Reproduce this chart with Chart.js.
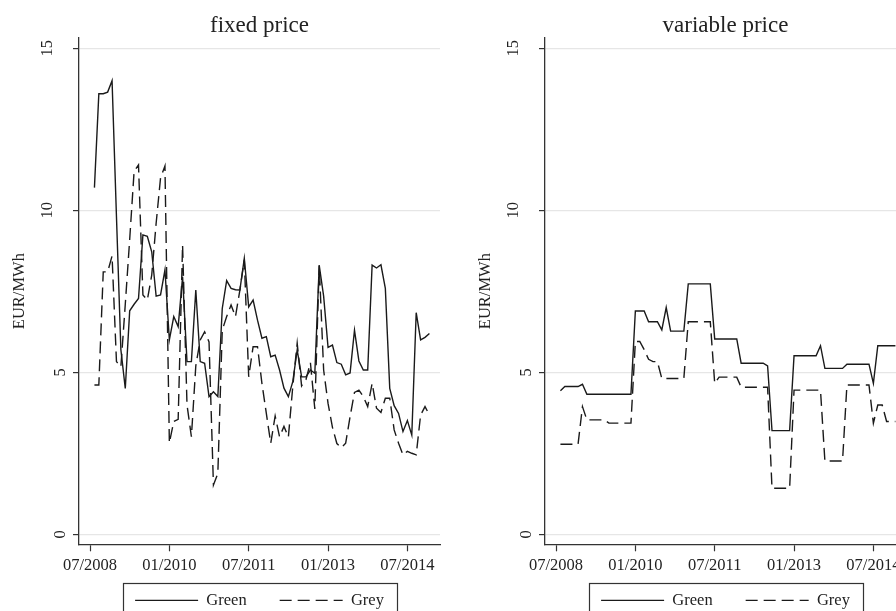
<!DOCTYPE html>
<html>
<head>
<meta charset="utf-8">
<script src="https://cdn.jsdelivr.net/npm/chart.js@4.4.1/dist/chart.umd.min.js"></script>
<style>
  html, body { margin: 0; padding: 0; background: #fff; width: 896px; height: 611px; overflow: hidden; }
  .panel { position: absolute; top: 0; width: 466px; height: 611px; }
  #fixedWrap { left: 0; }
  #variableWrap { left: 466px; }
</style>
</head>
<body>
<div class="panel" id="fixedWrap"><canvas id="fixedChart" width="466" height="611"></canvas></div>
<div class="panel" id="variableWrap"><canvas id="variableChart" width="466" height="611"></canvas></div>
<script>
// months counted from 07/2008 (= 0); series start 08/2008
const xTickValues = [0, 18, 36, 54, 72];
const xTickLabels = ['07/2008', '01/2010', '07/2011', '01/2013', '07/2014'];
const yTickValues = [0, 5, 10, 15];
const seriesNames = ['Green', 'Grey'];
const panelTitles = ['fixed price', 'variable price'];

const fixedGreen = [
  10.7, 13.6, 13.6, 13.65, 14.0, 9.8, 5.7, 4.5, 6.9, 7.1,
  7.28, 9.24, 9.2, 8.72, 7.35, 7.39, 8.16, 6.0, 6.72, 6.41,
  7.95, 5.33, 5.33, 7.54, 5.33, 5.28, 4.25, 4.4, 4.25, 6.97,
  7.83, 7.59, 7.55, 7.54, 8.52, 7.02, 7.23, 6.61, 6.05, 6.1,
  5.48, 5.53, 5.07, 4.51, 4.25, 4.71, 5.69, 4.86, 4.86, 5.07,
  4.97, 8.3, 7.35, 5.77, 5.84, 5.3, 5.25, 4.92, 4.98, 6.3,
  5.35, 5.07, 5.07, 8.31, 8.22, 8.32, 7.59, 4.5, 3.97, 3.73,
  3.17, 3.51, 3.06, 6.84, 6.0, 6.08, 6.2
];
const fixedGrey = [
  4.61, 4.61, 8.1, 8.1, 8.59, 5.33, 5.17, 7.1, 9.1, 11.2,
  11.4, 7.39, 7.23, 8.0, 9.6, 11.0, 11.37, 2.82, 3.48, 3.55,
  8.93, 4.0, 3.01, 5.2, 6.0, 6.25, 5.94, 1.52, 1.88, 6.3,
  6.72, 7.08, 6.72, 7.54, 8.47, 4.86, 5.79, 5.79, 4.66, 3.73,
  2.81, 3.65, 3.01, 3.33, 3.0, 4.56, 5.9, 4.58, 4.78, 5.3,
  3.87, 8.3, 5.07, 4.04, 3.3, 2.8, 2.67, 2.81, 3.63, 4.38,
  4.45, 4.25, 3.94, 4.66, 3.89, 3.76, 4.2, 4.2, 3.22, 2.81,
  2.45, 2.56, 2.5, 2.45, 3.68, 3.94, 3.68
];
const variableGreen = [
  4.43, 4.56, 4.56, 4.56, 4.56, 4.63, 4.32, 4.32, 4.32, 4.32,
  4.32, 4.32, 4.32, 4.32, 4.32, 4.32, 4.32, 6.89, 6.89, 6.89,
  6.56, 6.56, 6.56, 6.31, 7.0, 6.27, 6.27, 6.27, 6.27, 7.73,
  7.73, 7.73, 7.73, 7.73, 7.73, 6.03, 6.03, 6.03, 6.03, 6.03,
  6.03, 5.28, 5.28, 5.28, 5.28, 5.28, 5.28, 5.2, 3.2, 3.2,
  3.2, 3.2, 3.2, 5.51, 5.51, 5.51, 5.51, 5.51, 5.51, 5.82,
  5.12, 5.12, 5.12, 5.12, 5.12, 5.25, 5.25, 5.25, 5.25, 5.25,
  5.25, 4.66, 5.82, 5.82, 5.82, 5.82, 5.82
];
const variableGrey = [
  2.78, 2.78, 2.78, 2.78, 2.78, 3.94, 3.53, 3.53, 3.53, 3.53,
  3.53, 3.43, 3.43, 3.43, 3.43, 3.43, 3.43, 5.95, 5.95, 5.7,
  5.4, 5.33, 5.33, 4.81, 4.81, 4.81, 4.81, 4.81, 4.81, 6.56,
  6.56, 6.56, 6.56, 6.56, 6.56, 4.66, 4.85, 4.85, 4.85, 4.85,
  4.85, 4.54, 4.54, 4.54, 4.54, 4.54, 4.54, 4.54, 1.42, 1.42,
  1.42, 1.42, 1.42, 4.45, 4.45, 4.45, 4.45, 4.45, 4.45, 4.45,
  2.26, 2.26, 2.26, 2.26, 2.26, 4.61, 4.61, 4.61, 4.61, 4.61,
  4.61, 3.43, 3.99, 3.99, 3.48, 3.48, 3.48
];

const months = fixedGreen.map((_, i) => i + 1);

const serif = '"Liberation Serif", "Times New Roman", serif';
const textColor = '#222';
const lineColor = '#1a1a1a';
const axisColor = '#333';
const gridColor = '#e6e6e6';
const fontSize = 16.5;

// rotated y tick labels, like the stata output
const rotatedYTicks = {
    id: 'rotatedYTicks',
    afterDraw(chart) {
        const scale = chart.scales.y;
        const ctx = chart.ctx;
        ctx.save();
        ctx.font = fontSize + 'px ' + serif;
        ctx.fillStyle = textColor;
        ctx.textAlign = 'center';
        ctx.textBaseline = 'middle';
        yTickValues.forEach(v => {
            const label = String(v);
            const py = scale.getPixelForValue(v);
            const px = chart.chartArea.left - (label.length > 1 ? 31 : 18.5);
            ctx.save();
            ctx.translate(px, py);
            ctx.rotate(-Math.PI / 2);
            ctx.fillText(label, 0, 0);
            ctx.restore();
        });
        ctx.restore();
    }
};

// legend sits just under the tick labels, with a frame around it
const legendFrame = {
    id: 'legendFrame',
    afterLayout(chart) {
        const lg = chart.legend;
        if (!lg) return;
        const h = lg.bottom - lg.top;
        lg.top = chart.chartArea.bottom + 14.8;
        lg.bottom = lg.top + h;
    },
    afterDraw(chart) {
        const boxes = chart.legend && chart.legend.legendHitBoxes;
        if (!boxes || !boxes.length) return;
        const first = boxes[0];
        const last = boxes[boxes.length - 1];
        const midY = first.top + first.height / 2;
        const left = first.left - 12;
        const right = last.left + last.width + 13;
        const ctx = chart.ctx;
        ctx.save();
        ctx.strokeStyle = axisColor;
        ctx.lineWidth = 1.2;
        ctx.strokeRect(Math.round(left) + 0.5, Math.round(midY - 17.7) + 0.5, Math.round(right - left), 60);
        ctx.restore();
    }
};

function makePanel(canvasId, title, green, grey) {
    return new Chart(document.getElementById(canvasId), {
        type: 'line',
        data: {
            labels: months,
            datasets: [
                { label: seriesNames[0], data: green, borderColor: lineColor, backgroundColor: lineColor,
                  borderWidth: 1.4, borderDash: [], pointRadius: 0, tension: 0, fill: false },
                { label: seriesNames[1], data: grey, borderColor: lineColor, backgroundColor: lineColor,
                  borderWidth: 1.4, borderDash: [12, 6], pointRadius: 0, tension: 0, fill: false }
            ]
        },
        options: {
            responsive: false,
            animation: false,
            events: [],
            layout: { padding: { left: 0, right: 26, top: 0, bottom: -23.8 } },
            scales: {
                x: {
                    type: 'linear', min: -2.5, max: 79.4,
                    afterBuildTicks: s => { s.ticks = xTickValues.map(v => ({ value: v })); },
                    afterFit: s => { s.height = 31; },
                    ticks: {
                        autoSkip: false, maxRotation: 0, minRotation: 0, padding: 4,
                        color: textColor, font: { family: serif, size: fontSize },
                        callback: (v, i) => xTickLabels[i]
                    },
                    grid: { drawOnChartArea: false, drawTicks: true, tickLength: 7, tickColor: axisColor, tickWidth: 1.2 },
                    border: { display: true, color: axisColor, width: 1.3 }
                },
                y: {
                    type: 'linear', min: -0.31, max: 15.32,
                    afterBuildTicks: s => { s.ticks = yTickValues.map(v => ({ value: v })); },
                    afterFit: s => { s.width = 79; },
                    ticks: { display: false },
                    grid: { color: gridColor, lineWidth: 1.2, drawTicks: true, tickLength: 6, tickColor: axisColor, tickWidth: 1.2 },
                    border: { display: true, color: axisColor, width: 1.3 },
                    title: {
                        display: true, text: 'EUR/MWh', color: textColor,
                        font: { family: serif, size: fontSize }, padding: { top: 9.5, bottom: 0 }
                    }
                }
            },
            plugins: {
                tooltip: { enabled: false },
                title: {
                    display: true, text: title, fullSize: false, color: textColor,
                    font: { family: serif, size: 23, weight: 'normal' },
                    padding: { top: 11.7, bottom: -1.3 }
                },
                legend: {
                    display: true, position: 'bottom', fullSize: false,
                    labels: {
                        usePointStyle: true, pointStyleWidth: 63, padding: 33,
                        color: textColor, font: { family: serif, size: fontSize },
                        generateLabels: chart => chart.data.datasets.map((ds, i) => ({
                            text: ds.label, fontColor: textColor, strokeStyle: ds.borderColor,
                            fillStyle: ds.borderColor, lineWidth: ds.borderWidth, lineDash: ds.borderDash,
                            pointStyle: 'line', hidden: false, datasetIndex: i
                        }))
                    }
                }
            }
        },
        plugins: [rotatedYTicks, legendFrame]
    });
}

makePanel('fixedChart', panelTitles[0], fixedGreen, fixedGrey);
makePanel('variableChart', panelTitles[1], variableGreen, variableGrey);
</script>
</body>
</html>
